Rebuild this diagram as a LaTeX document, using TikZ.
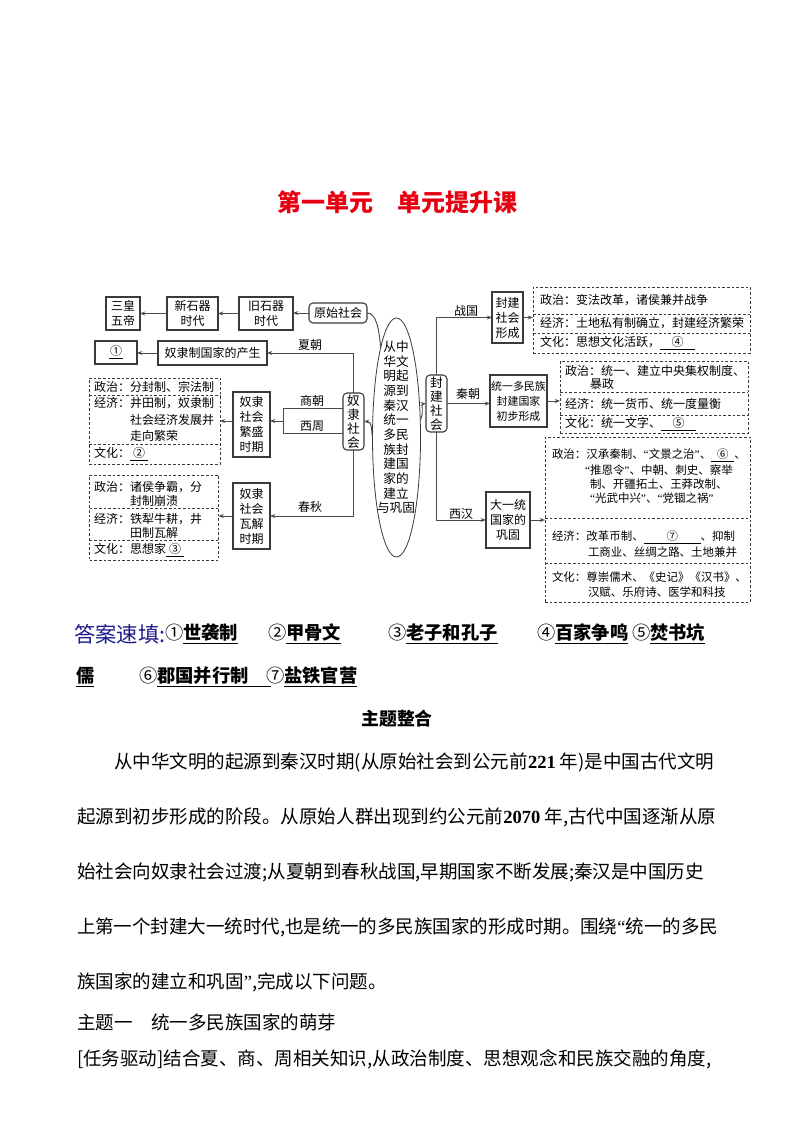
\documentclass[tikz,border=0pt]{standalone}
\usepackage{fontspec}
\setmainfont{Noto Sans CJK SC}
\newfontfamily\qf{Liberation Serif}
\XeTeXlinebreaklocale "zh"
\XeTeXlinebreakskip=0pt plus 2pt minus 0.3pt
\usetikzlibrary{arrows.meta,shapes.geometric,calc}
\newdimen\pu \pu=0.75pt
\newcommand{\ublank}[2]{\underline{\makebox[#1\pu]{#2}}}
\newcommand{\qo}{{\qf “}}
\newcommand{\qc}{{\qf ”}}
\newcommand{\jl}{\noindent\parfillskip=0pt\relax}
\newcommand{\num}[1]{{\qf\bfseries #1}}
\definecolor{boxc}{HTML}{3A3A3A}
\definecolor{linec}{HTML}{4A4A4A}
\definecolor{titlered}{HTML}{E60012}
\definecolor{navy}{HTML}{1C1C8C}
\tikzset{
  every node/.style={inner sep=0pt, outer sep=0pt},
  wh/.style 2 args={minimum width=#1*\pu, minimum height=#2*\pu},
  dfont/.style={font=\fontsize{9}{11.25}\selectfont},
  box/.style={draw=boxc, line width=0.8pt, align=center, dfont},
  rbox/.style={box, rounded corners=3pt},
  vt/.style={font=\fontsize{9.5}{10.5}\selectfont},
  dbox/.style={draw=boxc, line width=0.6pt, dash pattern=on 2pt off 1.5pt},
  dline/.style={draw=boxc, line width=0.6pt, dash pattern=on 2pt off 1.5pt},
  conn/.style={draw=linec, line width=0.7pt},
  arr/.style={conn, -{Stealth[length=4pt,width=3pt]}},
  lbl/.style={dfont},
  txt/.style={dfont, anchor=west},
  stxt/.style={font=\fontsize{8.6}{10}\selectfont, anchor=west},
  body/.style={anchor=west, font=\fontsize{13.9}{16}\selectfont},
  jline/.style={body, text width=#1*\pu, align=justify},
  ansf/.style={anchor=west, font=\fontsize{13.7}{16}\selectfont},
}
\begin{document}
\begin{tikzpicture}[x=0.75pt,y=-0.75pt]
\fill[white] (0,0) rectangle (794,1123);
\useasboundingbox (0,0) rectangle (794,1123);

% title
\node[font=\fontsize{18}{20}\selectfont\bfseries, text=titlered] (title) at (397,202) {第一单元　单元提升课};

% ---------- left part ----------
\node[box, wh={34}{33}] (sh) at (123,313.5) {三皇\\五帝};
\node[box, wh={51}{33}] (xsq) at (192.5,313.5) {新石器\\时代};
\node[box, wh={54}{33}] (jsq) at (266,313.5) {旧石器\\时代};
\node[rbox, wh={58}{20}] (ys) at (338,313) {原始社会};
\node[box, wh={42}{23}] (q1) at (116,352.5) {\ublank{14}{①}};
\node[box, wh={109}{24}] (zc) at (212.5,353) {奴隶制国家的产生};
\node[box, wh={37}{65}] (fs) at (251.5,424.5) {奴隶\\社会\\繁盛\\时期};
\node[box, wh={37}{66}] (wj) at (251.5,516) {奴隶\\社会\\瓦解\\时期};
\node[rbox, wh={21}{57}, vt] (ns) at (353.5,421.5) {奴\\隶\\社\\会};

% dashed box 1
\node[dbox, wh={131}{86}] (d1) at (154.5,421) {};
\draw[dline] (d1.west |- 0,395) -- (d1.east |- 0,395);
\draw[dline] (d1.west |- 0,444) -- (d1.east |- 0,444);
\node[txt] (d1a) at (94,386.5) {政治：分封制、宗法制};
\node[txt] (d1b) at (94,403) {经济：井田制，奴隶制};
\node[txt] (d1c) at (130,419.5) {社会经济发展并};
\node[txt] (d1d) at (130,436) {走向繁荣};
\node[txt] (d1e) at (94,454) {文化：\ublank{18}{②}};

% dashed box 2
\node[dbox, wh={129}{85}] (d2) at (154,517.5) {};
\draw[dline] (d2.west |- 0,508) -- (d2.east |- 0,508);
\draw[dline] (d2.west |- 0,540) -- (d2.east |- 0,540);
\node[txt] (d2a) at (94,487) {政治：诸侯争霸，分};
\node[txt] (d2b) at (130,500.5) {封制崩溃};
\node[txt] (d2c) at (94,519) {经济：铁犁牛耕，井};
\node[txt] (d2d) at (130,533) {田制瓦解};
\node[txt] (d2e) at (94,550) {文化：思想家\ublank{18}{③}};

% left connectors
\draw[arr] (ys.west) -- (ys.west -| jsq.east);
\draw[arr] (jsq) -- (xsq);
\draw[arr] (xsq) -- (sh);
\draw[arr] (zc.west) -- (zc.west -| q1.east);
\draw[arr] (ns.north) |- (zc.east);
\node[lbl] (lxia) at (310,345) {夏朝};
\coordinate (sc) at (283,408);
\coordinate (xz) at (283,433);
\coordinate (sxm) at (283,421);
\draw[conn] (ns.west |- sc) -- (sc) -- (xz) -- (ns.west |- xz);
\draw[arr] (sxm) -- (sxm -| fs.east);
\node[lbl] (lshang) at (312,401) {商朝};
\node[lbl] (lxz) at (312,426) {西周};
\draw[arr] (fs.west |- sxm) -- (sxm -| d1.east);
\draw[arr] (ns.south) |- (wj.east);
\node[lbl] (lcq) at (310,507) {春秋};
\draw[arr] (wj.west) -- (wj.west -| d2.east);

% ---------- ellipse ----------
\node[ellipse, draw=boxc, line width=0.6pt, minimum width=48*\pu, minimum height=239*\pu, inner sep=0pt] (el) at (396.5,437.5) {};
\node[align=center, font=\fontsize{9.5}{11}\selectfont] (elt) at (396,427.5) {从中\\华文\\明起\\源到\\秦汉\\统一\\多民\\族封\\建国\\家的\\建立\\与巩固};
\node[rbox, wh={21}{57}, vt] (fj) at (436.5,403.5) {封\\建\\社\\会};
\draw[conn] (ys.east) .. controls (376,313) and (379,328) .. (el.100);
\draw[arr] (el.west) .. controls (371,428) and (372,421.5) .. (ns.east);
\draw[arr] (el.36) .. controls (424,414) and (421,404) .. (fj.west);

% ---------- right part ----------
\node[box, wh={31}{51}] (fx) at (507.5,317.5) {封建\\社会\\形成};
\node[box, wh={57}{52}, font=\fontsize{8.2}{11.25}\selectfont] (ty) at (518.5,401) {统一多民族\\封建国家\\初步形成};
\node[box, wh={44}{56}] (dy) at (508,520) {大一统\\国家的\\巩固};

\draw[arr] (fj.north) |- (fx.west);
\node[lbl] (lzg) at (466,311) {战国};
\draw[arr] (fj.east) -- (fj.east -| ty.west);
\node[lbl] (lqc) at (468,394) {秦朝};
\draw[arr] (fj.south) |- (dy.west);
\node[lbl] (lxh) at (461,514) {西汉};

% dashed box 3
\node[dbox, wh={217}{66}] (d3) at (641.5,320) {};
\draw[dline] (d3.west |- 0,314) -- (d3.east |- 0,314);
\draw[dline] (d3.west |- 0,333) -- (d3.east |- 0,333);
\node[txt] (d3a) at (540,300.5) {政治：变法改革，诸侯兼并战争};
\node[txt] (d3b) at (540,323.5) {经济：土地私有制确立，封建经济繁荣};
\node[txt] (d3c) at (540,343) {文化：思想文化活跃，\ublank{35}{④}};
\draw[arr] (fx.east) -- (fx.east -| d3.west);

% dashed box 4
\node[dbox, wh={188}{72}] (d4) at (654,397) {};
\draw[dline] (d4.west |- 0,392) -- (d4.east |- 0,392);
\draw[dline] (d4.west |- 0,415) -- (d4.east |- 0,415);
\node[txt] (d4a) at (565,371) {政治：统一、建立中央集权制度、};
\node[txt] (d4b) at (590,384) {暴政};
\node[txt] (d4c) at (565,403.5) {经济：统一货币、统一度量衡};
\node[txt] (d4d) at (565,424.5) {文化：统一文字、\ublank{35}{⑤}};
\draw[arr] (ty.east) -- (ty.east -| d4.west);

% dashed box 5
\node[dbox, wh={205}{165}] (d5) at (647.5,519.5) {};
\draw[dline] (d5.west |- 0,518) -- (d5.east |- 0,518);
\draw[dline] (d5.west |- 0,563) -- (d5.east |- 0,563);
\node[stxt] (d5a) at (552,455) {政治：汉承秦制、\qo 文景之治\qc 、\ublank{23}{⑥}、};
\node[stxt] (d5b) at (585,470) {\qo 推恩令\qc 、中朝、刺史、察举};
\node[stxt] (d5c) at (590,484) {制、开疆拓土、王莽改制、};
\node[stxt] (d5d) at (590,498) {\qo 光武中兴\qc 、\qo 党锢之祸\qc};
\node[stxt] (d5e) at (552,537.5) {经济：改革币制、\ublank{57}{⑦}、抑制};
\node[stxt] (d5f) at (588,552) {工商业、丝绸之路、土地兼并};
\node[stxt] (d5g) at (552,577) {文化：尊崇儒术、《史记》《汉书》、};
\node[stxt] (d5h) at (588,592) {汉赋、乐府诗、医学和科技};
\draw[arr] (dy.east) -- (dy.east -| d5.west);

% ---------- answers ----------
\node[anchor=west, font=\fontsize{16}{18}\selectfont, text=navy] (a0) at (74,634) {答案速填:};
\node[ansf] (a1) at (165,634) {①{\bfseries\underline{世袭制}}};
\node[ansf] (a2) at (268,634) {②{\bfseries\underline{甲骨文}}};
\node[ansf] (a3) at (388,634) {③{\bfseries\underline{老子和孔子}}};
\node[ansf] (a4) at (537,634) {④{\bfseries\underline{百家争鸣}}};
\node[ansf] (a5) at (632,634) {⑤{\bfseries\underline{焚书坑}}};
\node[ansf] (b0) at (76,677) {{\bfseries\underline{儒}}};
\node[ansf] (b1) at (139,677) {⑥{\bfseries\underline{\makebox[114\pu][l]{郡国并行制}}}};
\node[ansf] (b2) at (266,677) {⑦{\bfseries\underline{盐铁官营}}};

% ---------- body text ----------
\node[font=\fontsize{13.4}{16}\selectfont\bfseries] (zt) at (397,719) {主题整合};
\node[jline=604] (p1) at (114,762) {\jl 从中华文明的起源到秦汉时期(从原始社会到公元前\num{221} 年)是中国古代文明};
\node[jline=641] (p2) at (77,817) {\jl 起源到初步形成的阶段。从原始人群出现到约公元前\num{2070} 年,古代中国逐渐从原};
\node[jline=641] (p3) at (77,872) {\jl 始社会向奴隶社会过渡;从夏朝到春秋战国,早期国家不断发展;秦汉是中国历史};
\node[jline=641] (p4) at (77,927) {\jl 上第一个封建大一统时代,也是统一的多民族国家的形成时期。围绕\qo 统一的多民};
\node[body] (p5) at (77,982) {族国家的建立和巩固\qc ,完成以下问题。};
\node[body] (p6) at (77,1022) {主题一　统一多民族国家的萌芽};
\node[jline=641] (p7) at (77,1059) {\jl [任务驱动]结合夏、商、周相关知识,从政治制度、思想观念和民族交融的角度,};
\end{tikzpicture}
\end{document}
